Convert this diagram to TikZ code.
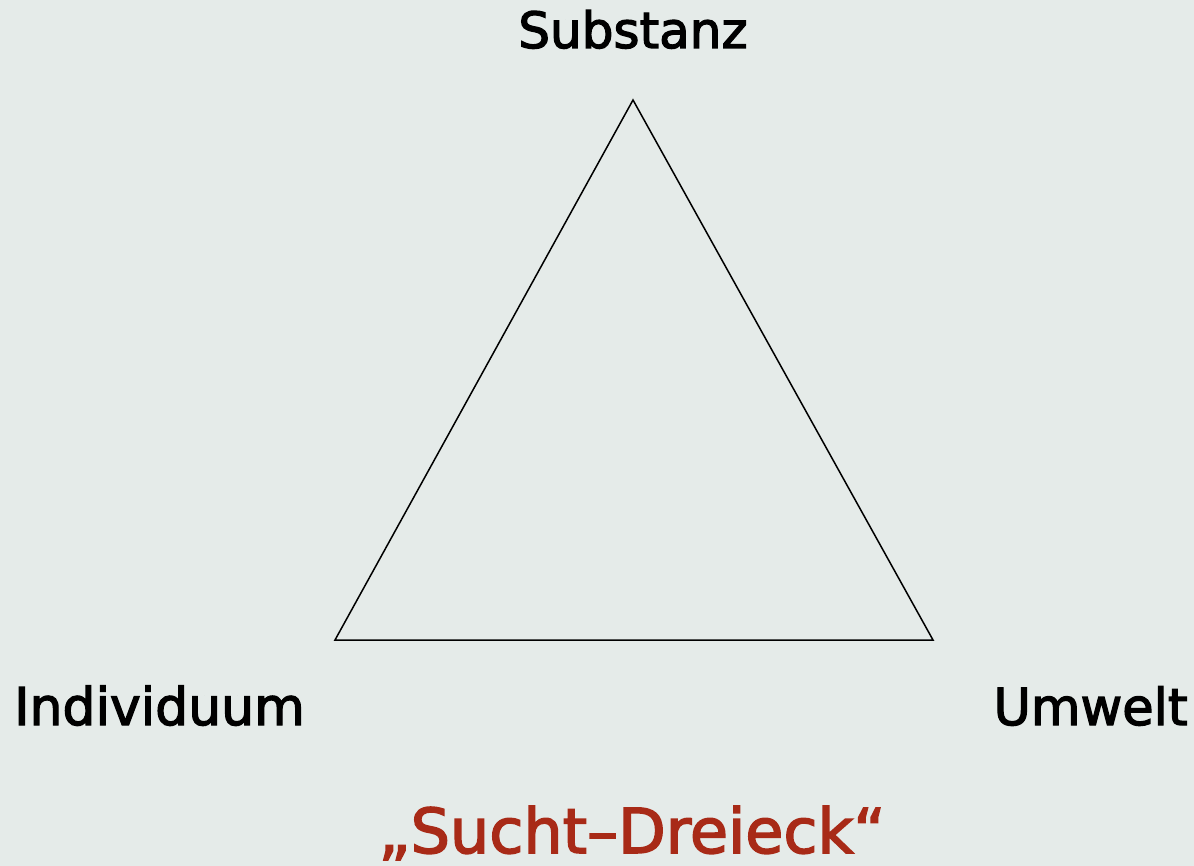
\documentclass[tikz,border=0pt]{standalone}
\usepackage{fontspec}
\setmainfont{DejaVu Sans}
\newfontfamily\lblfont{DejaVu Sans}[FakeBold=2.5]
\definecolor{bg}{HTML}{E5EBE9}
\definecolor{title}{HTML}{A82A17}
\begin{document}
\begin{tikzpicture}[x=1pt,y=-1pt,
  lbl/.style={inner sep=0pt, text=black},
  edge/.style={draw=black, line width=1.5pt, line join=miter}]
\fill[bg] (0,0) rectangle (1194,866);
\useasboundingbox (0,0) rectangle (1194,866);
\coordinate (S) at (633,100);
\coordinate (I) at (335,640);
\coordinate (U) at (933,640);
\draw[edge] (S) -- (I) -- (U) -- cycle;
\node[lbl, anchor=base, font=\lblfont\fontsize{50}{60}\selectfont] (ts) at (633,48) {Substanz};
\node[lbl, anchor=base west, font=\lblfont\fontsize{52}{60}\selectfont] (ti) at (14,725) {Individuum};
\node[lbl, anchor=base east, font=\lblfont\fontsize{51}{60}\selectfont] (tu) at (1188,725) {Umwelt};
\node[lbl, anchor=base, text=title, font=\lblfont\fontsize{62}{80}\selectfont] (tt) at (632,853) {„Sucht–Dreieck“};
\end{tikzpicture}
\end{document}
